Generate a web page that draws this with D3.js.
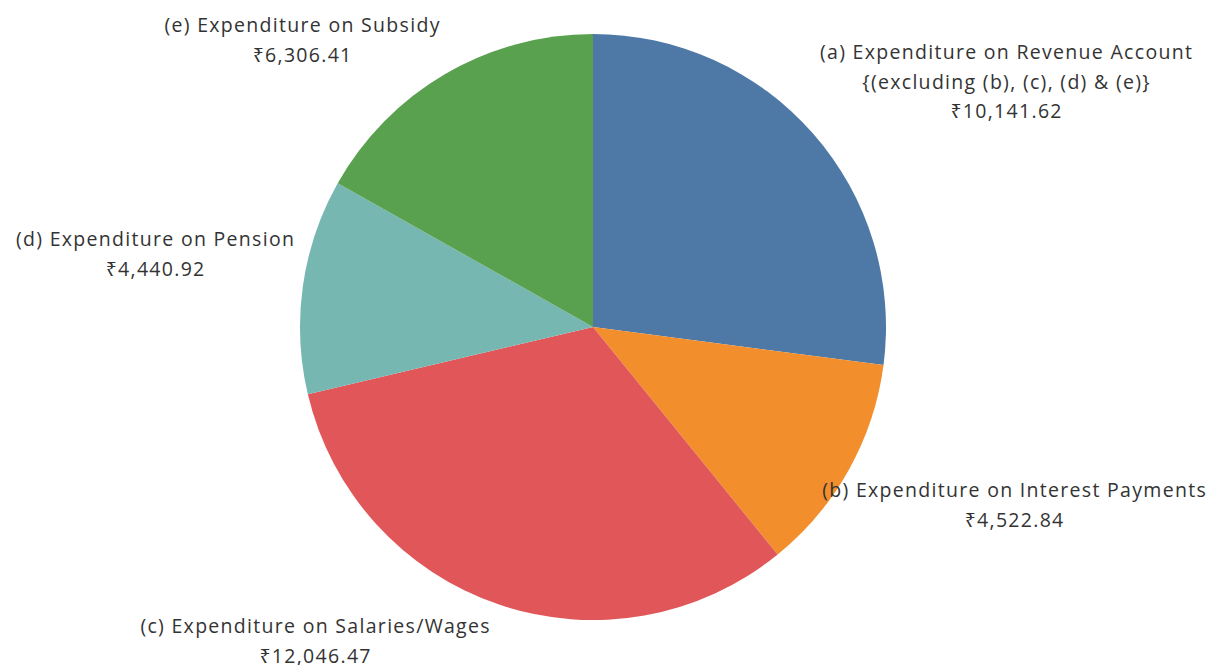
<!DOCTYPE html>
<html>
<head>
<meta charset="utf-8">
<script src="https://cdn.jsdelivr.net/npm/d3@7"></script>
<style>
  body { margin: 0; background: #fff; }
  text { font-family: "Open Sans", "Noto Sans", sans-serif; fill: #333; }
</style>
</head>
<body>
<svg id="chart" width="1216" height="665"></svg>
<script>
let categories = [
    ["(a) Expenditure on Revenue Account", "{(excluding (b), (c), (d) & (e)}"],
    ["(b) Expenditure on Interest Payments"],
    ["(c) Expenditure on Salaries/Wages"],
    ["(d) Expenditure on Pension"],
    ["(e) Expenditure on Subsidy"]
]
let values = [10141.62, 4522.84, 12046.47, 4440.92, 6306.41]
let colors = ["#4e79a7", "#f28e2b", "#e15759", "#76b7b2", "#59a14f"]

// where each label block is centred (first line's middle)
let labelPos = [[1006, 52], [1014, 490], [315, 626], [155, 239], [302, 25]]

let cx = 593, cy = 327, radius = 293
let lineH = 29.5

let data = values.map((v, i) => ({ value: v, lines: categories[i], color: colors[i], pos: labelPos[i] }))

let svg = d3.select("#chart")
let g = svg.append("g").attr("transform", "translate(" + cx + "," + cy + ")")

let pie = d3.pie().sort(null).value(d => d.value)
let arc = d3.arc().innerRadius(0).outerRadius(radius)

g.selectAll("path")
    .data(pie(data))
    .enter().append("path")
    .attr("d", arc)
    .attr("fill", d => d.data.color)

let fmt = d3.format(",.2f")

let lbl = svg.selectAll(".lbl")
    .data(data)
    .enter().append("text")
    .attr("class", "lbl")
    .attr("text-anchor", "middle")
    .style("font-size", "19.5px")
    .style("letter-spacing", "1.3px")
    .attr("transform", d => "translate(" + (d.pos[0] + 0.6) + "," + (d.pos[1] + 7) + ")")

lbl.each(function (d) {
    let t = d3.select(this)
    let rows = d.lines.concat(["₹" + fmt(d.value)])
    rows.forEach((r, i) => {
        t.append("tspan").attr("x", 0).attr("y", i * lineH).text(r)
    })
})
</script>
</body>
</html>
